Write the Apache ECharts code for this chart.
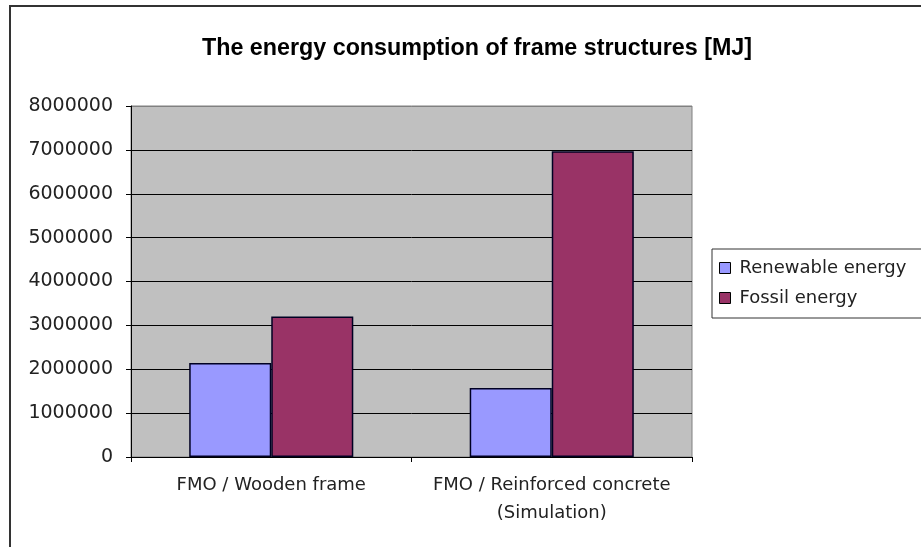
<!DOCTYPE html>
<html>
<head>
<meta charset="utf-8">
<script src="https://cdn.jsdelivr.net/npm/echarts@6/dist/echarts.min.js"></script>
<style>
  html, body { margin: 0; padding: 0; background: #ffffff; }
  #chart { width: 921px; height: 547px; }
</style>
</head>
<body>
<div id="chart"></div>
<script>
// Energy consumption of two frame structures, in MJ
const categories = ['FMO / Wooden frame', 'FMO / Reinforced concrete\n(Simulation)'];
const renewableEnergy = [2140000, 1570000];
const fossilEnergy = [3200000, 6970000];
const seriesNames = ['Renewable energy', 'Fossil energy'];
const yTicks = [0, 1000000, 2000000, 3000000, 4000000, 5000000, 6000000, 7000000, 8000000];

const chart = echarts.init(document.getElementById('chart'));
const labelFont = { fontFamily: 'DejaVu Sans', fontSize: 18, color: '#222222' };

chart.setOption({
  backgroundColor: '#ffffff',
  animation: false,
  title: {
    text: 'The energy consumption of frame structures [MJ]',
    left: 472,
    top: 32,
    textAlign: 'center',
    textStyle: { fontFamily: 'Liberation Sans', fontWeight: 'bold', fontSize: 23.3, color: '#000000' }
  },
  graphic: [{
    type: 'rect',
    z: -1,
    shape: { x: 10, y: 6, width: 1000, height: 1000 },
    style: { fill: 'none', stroke: '#333333', lineWidth: 2 }
  }],
  legend: {
    data: seriesNames,
    orient: 'vertical',
    left: 712,
    top: 249,
    icon: 'rect',
    itemWidth: 11,
    itemHeight: 11,
    itemGap: 8,
    padding: [8, 60, 9, 7],
    borderColor: '#333333',
    borderWidth: 1,
    itemStyle: { borderColor: '#000000', borderWidth: 1 },
    textStyle: Object.assign({}, labelFont, { lineHeight: 22, padding: [0, 0, 0, 4] })
  },
  grid: {
    left: 131, right: 229, top: 106, bottom: 90,
    show: true,
    backgroundColor: '#c0c0c0',
    borderColor: '#808080',
    borderWidth: 1
  },
  xAxis: {
    type: 'category',
    data: categories,
    axisLine: { lineStyle: { color: '#000000', width: 1 } },
    axisTick: { show: true, length: 5, lineStyle: { color: '#000000' } },
    axisLabel: Object.assign({}, labelFont, { margin: 14, lineHeight: 28, interval: 0 })
  },
  yAxis: {
    type: 'value',
    min: yTicks[0],
    max: yTicks[yTicks.length - 1],
    interval: yTicks[1] - yTicks[0],
    axisLine: { show: true, lineStyle: { color: '#000000', width: 1 } },
    axisTick: { show: true, length: 5, lineStyle: { color: '#000000' } },
    axisLabel: Object.assign({}, labelFont, { fontSize: 19, margin: 18, formatter: function (v) { return String(v); } }),
    splitLine: {
      show: true,
      lineStyle: { color: ['#000000', '#000000', '#000000', '#000000', '#000000', '#000000', '#000000', '#000000', '#808080'], width: 1 }
    }
  },
  series: [{
    name: seriesNames[0],
    type: 'bar',
    data: renewableEnergy,
    barGap: '0%',
    barCategoryGap: '41.5%',
    itemStyle: { color: '#9999ff', borderColor: '#000022', borderWidth: 1.5 }
  }, {
    name: seriesNames[1],
    type: 'bar',
    data: fossilEnergy,
    itemStyle: { color: '#993366', borderColor: '#000022', borderWidth: 1.5 }
  }]
});
</script>
</body>
</html>
